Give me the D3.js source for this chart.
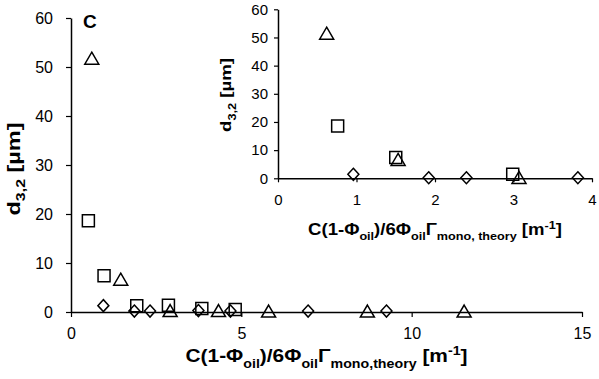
<!DOCTYPE html>
<html>
<head>
<meta charset="utf-8">
<script src="https://cdn.jsdelivr.net/npm/d3@7"></script>
<style>
  body { margin: 0; background: #fff; }
  svg { display: block; font-family: "Liberation Sans", Arial, sans-serif; }
</style>
</head>
<body>
<script>
// main chart data
var mainSquareX = [0.51, 0.97, 1.93, 2.86, 3.84, 4.82];
var mainSquareY = [18.6, 7.4, 1.3, 1.4, 0.7, 0.5];
var mainTriangleX = [0.61, 1.46, 2.91, 4.33, 5.80, 8.70, 11.54];
var mainTriangleY = [51.8, 6.7, 0.3, 0.3, 0.2, 0.2, 0.2];
var mainDiamondX = [0.95, 1.86, 2.32, 3.74, 4.68, 6.96, 9.26];
var mainDiamondY = [1.3, 0.2, 0.2, 0.3, 0.2, 0.2, 0.2];
var mainXTicks = [0, 5, 10, 15];
var mainYTicks = [0, 10, 20, 30, 40, 50, 60];

// inset data
var insetSquareX = [0.76, 1.50, 2.99];
var insetSquareY = [18.6, 7.4, 1.4];
var insetTriangleX = [0.62, 1.53, 3.07];
var insetTriangleY = [51.5, 6.7, 0.3];
var insetDiamondX = [0.96, 1.92, 2.40, 3.82];
var insetDiamondY = [1.4, 0.2, 0.2, 0.2];
var insetXTicks = [0, 1, 2, 3, 4];
var insetYTicks = [0, 10, 20, 30, 40, 50, 60];

var svg = d3.select("body")
    .append("svg")
    .attr("width", 599)
    .attr("height", 379);

// marker shapes, centred on the point
function square(s) { var h = s / 2; return "M" + (-h) + "," + (-h) + "h" + s + "v" + s + "h" + (-s) + "Z"; }
function triangle(s) { var h = s / 2; return "M0," + (-h) + "L" + (h + 1) + "," + h + "L" + (-h - 1) + "," + h + "Z"; }
function diamond(s) { var h = s / 2; return "M0," + (-h) + "L" + (h - 0.5) + ",0L0," + h + "L" + (-h + 0.5) + ",0Z"; }

// text with sub/superscripts
function richText(sel, parts, size) {
    var back = 0;
    parts.forEach(function(p) {
        var t = sel.append("tspan").text(p[0]);
        var shift = 0;
        if (p[1] == "sub") shift = size * 0.3;
        if (p[1] == "sup") shift = -size * 0.38;
        if (p[1]) t.style("font-size", (size * 0.68) + "px");
        if (back + shift != 0) t.attr("dy", back + shift);
        back = -shift;
    });
}

// stretch a title so it spans the same length as in the picture
function fitTitle(t, x, y, rot, len) {
    var w = t.node().getBBox().width;
    t.attr("transform", "translate(" + x + "," + y + ") rotate(" + rot + ") scale(" + (len / w) + ",1)");
}

function drawChart(o) {
    var x = d3.scaleLinear().domain([0, o.xTicks[o.xTicks.length - 1]]).range([o.left, o.right]);
    var y = d3.scaleLinear().domain([0, 60]).range([o.bottom, o.top]);

    // Y-as
    var ya = svg.append("g")
        .attr("transform", "translate(" + o.left + ",0)")
        .call(d3.axisLeft(y).tickValues(o.yTicks).tickFormat(d3.format("d"))
            .tickSize(o.tick).tickPadding(o.ypad).tickSizeOuter(0));
    // X-as
    var xa = svg.append("g")
        .attr("transform", "translate(0," + o.bottom + ")")
        .call(d3.axisBottom(x).tickValues(o.xTicks).tickFormat(d3.format("d"))
            .tickSize(o.tick).tickPadding(o.xpad).tickSizeOuter(0));

    [ya, xa].forEach(function(a) {
        a.select(".domain").attr("stroke", "#000").attr("stroke-width", 1.5);
        a.selectAll(".tick line").attr("stroke", "#000").attr("stroke-width", 1.2);
        a.selectAll("text")
            .style("font-family", "'Liberation Sans', Arial, sans-serif")
            .style("font-size", o.tickFont + "px")
            .attr("fill", "#000");
    });

    var g = svg.append("g")
        .attr("fill", "none")
        .attr("stroke", "#000")
        .attr("stroke-width", 1.5);

    function points(xs, ys, shape) {
        g.selectAll(null)
            .data(xs.map(function(v, i) { return [v, ys[i]]; }))
            .enter()
            .append("path")
            .attr("transform", function(d) { return "translate(" + x(d[0]) + "," + y(d[1]) + ")"; })
            .attr("d", shape(o.marker));
    }
    points(o.dx, o.dy, diamond);
    points(o.sx, o.sy, square);
    points(o.tx, o.ty, triangle);

    // x title
    var xt = svg.append("text")
        .attr("text-anchor", "middle")
        .style("font-size", o.xTitleFont + "px")
        .style("font-weight", "bold");
    richText(xt, o.xTitle, o.xTitleFont);
    fitTitle(xt, (o.left + o.right) / 2, o.xTitleY, 0, o.xTitleLen);

    // y title
    var yt = svg.append("text")
        .attr("text-anchor", "middle")
        .style("font-size", o.yTitleFont + "px")
        .style("font-weight", "bold");
    richText(yt, [["d"], ["3,2", "sub"], [" [\u00b5m]"]], o.yTitleFont);
    fitTitle(yt, o.yTitleX, o.yTitleY, -90, o.yTitleLen);
}

drawChart({
    left: 71, right: 582, top: 18, bottom: 312,
    xTicks: mainXTicks, yTicks: mainYTicks,
    tick: 5, ypad: 13, xpad: 11, tickFont: 16, marker: 12,
    sx: mainSquareX, sy: mainSquareY, tx: mainTriangleX, ty: mainTriangleY, dx: mainDiamondX, dy: mainDiamondY,
    xTitle: [["C(1-\u03a6"], ["oil", "sub"], [")/6\u03a6"], ["oil", "sub"], ["\u0393"], ["mono,theory", "sub"], [" [m"], ["-1", "sup"], ["]"]],
    xTitleY: 362, xTitleFont: 19, xTitleLen: 282,
    yTitleX: 20, yTitleY: 169, yTitleFont: 18, yTitleLen: 93
});

drawChart({
    left: 278, right: 592, top: 9.3, bottom: 178.3,
    xTicks: insetXTicks, yTicks: insetYTicks,
    tick: 4, ypad: 6, xpad: 12, tickFont: 15, marker: 12,
    sx: insetSquareX, sy: insetSquareY, tx: insetTriangleX, ty: insetTriangleY, dx: insetDiamondX, dy: insetDiamondY,
    xTitle: [["C(1-\u03a6"], ["oil", "sub"], [")/6\u03a6"], ["oil", "sub"], ["\u0393"], ["mono, theory", "sub"], [" [m"], ["-1", "sup"], ["]"]],
    xTitleY: 235, xTitleFont: 16, xTitleLen: 254,
    yTitleX: 231, yTitleY: 95, yTitleFont: 15, yTitleLen: 74
});

// panel label
svg.append("text")
    .attr("x", 83)
    .attr("y", 28)
    .style("font-size", "19px")
    .style("font-weight", "bold")
    .text("C");
</script>
</body>
</html>
